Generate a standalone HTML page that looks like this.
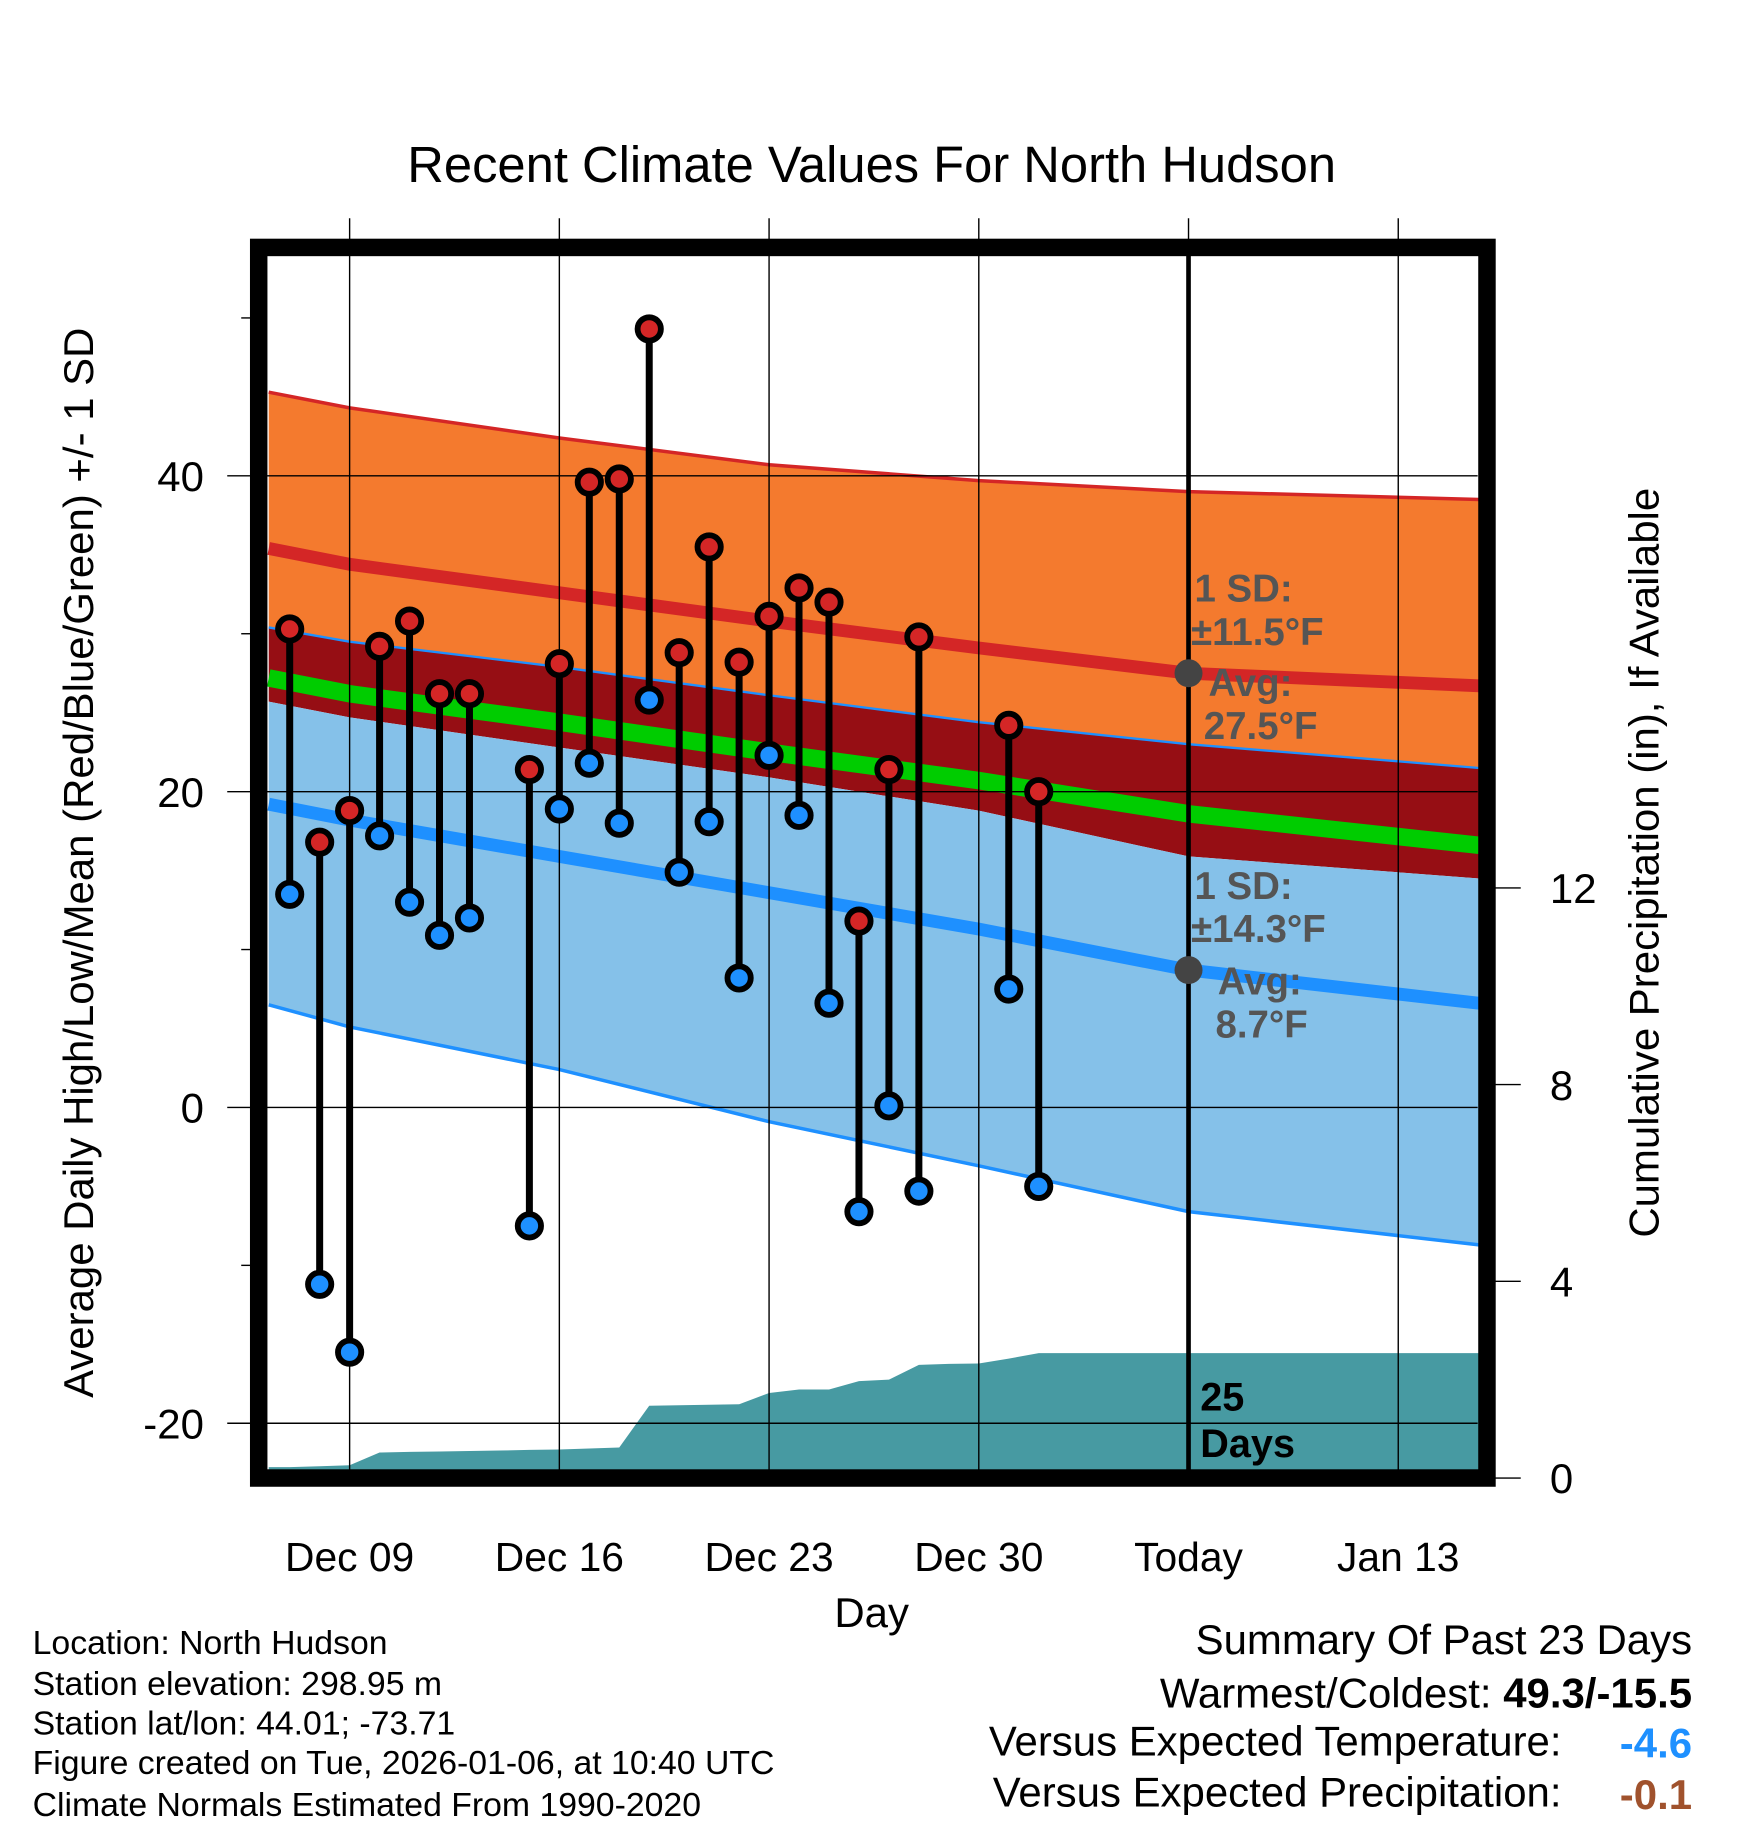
<!DOCTYPE html>
<html><head><meta charset="utf-8"><style>
html,body{margin:0;padding:0;background:#fff;}
svg{display:block;font-family:"Liberation Sans",Arial,sans-serif;}
</style></head><body>
<svg id="chart" width="1748" height="1828" viewBox="0 0 1500 1568" xmlns="http://www.w3.org/2000/svg">
<text x="748" y="156" font-size="43.5" text-anchor="middle">Recent Climate Values For North Hudson</text>
<g id="bands"></g>
<g id="precip"></g>
<g id="grid"></g>
<g id="marks"></g>
<g id="ann">
<text x="1025" y="516" font-size="33" font-weight="bold" fill="#555">1 SD:</text>
<text x="1022" y="553" font-size="33" font-weight="bold" fill="#555">±11.5°F</text>
<text x="1037" y="597" font-size="33" font-weight="bold" fill="#555">Avg:</text>
<text x="1033" y="634" font-size="33" font-weight="bold" fill="#555">27.5°F</text>
<text x="1025" y="771" font-size="33" font-weight="bold" fill="#555">1 SD:</text>
<text x="1022" y="808" font-size="33" font-weight="bold" fill="#555">±14.3°F</text>
<text x="1045" y="853" font-size="33" font-weight="bold" fill="#555">Avg:</text>
<text x="1043" y="890" font-size="33" font-weight="bold" fill="#555">8.7°F</text>
<text x="1030" y="1210" font-size="34" font-weight="bold">25</text>
<text x="1030" y="1250" font-size="34" font-weight="bold">Days</text>
</g>
<rect x="222" y="212" width="1054" height="1056" fill="none" stroke="#000" stroke-width="15"/>
<text x="748" y="1396" font-size="36" text-anchor="middle">Day</text>
<text transform="translate(80,740) rotate(-90)" font-size="36" text-anchor="middle">Average Daily High/Low/Mean (Red/Blue/Green) +/- 1 SD</text>
<text transform="translate(1423,740) rotate(-90)" font-size="36" text-anchor="middle">Cumulative Precipitation (in), If Available</text>
<g font-size="29">
<text x="28" y="1419">Location: North Hudson</text>
<text x="28" y="1454">Station elevation: 298.95 m</text>
<text x="28" y="1488">Station lat/lon: 44.01; -73.71</text>
<text x="28" y="1522">Figure created on Tue, 2026-01-06, at 10:40 UTC</text>
<text x="28" y="1558">Climate Normals Estimated From 1990-2020</text>
</g>
<g font-size="36">
<text x="1452" y="1419" text-anchor="end">Summary Of Past 23 Days</text>
<text x="1452" y="1465" text-anchor="end">Warmest/Coldest: <tspan font-weight="bold">49.3/-15.5</tspan></text>
<text x="1340" y="1506" text-anchor="end">Versus Expected Temperature:</text>
<text x="1452" y="1508" text-anchor="end" font-weight="bold" fill="#1e90ff">-4.6</text>
<text x="1340" y="1550" text-anchor="end">Versus Expected Precipitation:</text>
<text x="1452" y="1552" text-anchor="end" font-weight="bold" fill="#a0522d">-0.1</text>
</g>
</svg>
<script>
// day index 0 = Dec 07
const dayLabels = ["Dec 09","Dec 16","Dec 23","Dec 30","Today","Jan 13"];
const dayLabelIdx = [2,9,16,23,30,37];
const obsDays = [0,1,2,3,4,5,6,8,9,10,11,12,13,14,15,16,17,18,19,20,21,24,25];
const highs = [30.3,16.8,18.8,29.2,30.8,26.2,26.2,21.4,28.1,39.6,39.8,49.3,28.8,35.5,28.2,31.1,32.9,32.0,11.8,21.4,29.8,24.2,20.0];
const lows = [13.5,-11.2,-15.5,17.2,13.0,10.9,12.0,-7.5,18.9,21.8,18.0,25.8,14.9,18.1,8.2,22.3,18.5,6.6,-6.6,0.1,-5.3,7.5,-5.0];
const normDays = [-0.7,2,9,16,23,30,39.7];
const highUpper = [45.3,44.3,42.4,40.7,39.7,39.0,38.5];
const highMean = [35.4,34.4,32.6,30.8,29.1,27.5,26.7];
const orangeLower = [30.4,29.5,27.9,26.1,24.4,23.0,21.5];
const avgMean = [27.2,26.2,24.4,22.5,20.7,18.6,16.6];
const darkLower = [25.7,24.7,22.8,20.9,18.8,15.9,14.5];
const lowMean = [19.2,18.2,15.9,13.6,11.3,8.7,6.6];
const lowLower = [6.5,5.1,2.4,-0.9,-3.7,-6.6,-8.7];
const precipDays = [-0.7,0,1,2,3,4,5,6,7,8,9,10,11,12,13,14,15,16,17,18,19,20,21,22,23,24,25,26,39.7];
const precipVals = [0.22,0.22,0.24,0.26,0.52,0.53,0.54,0.55,0.56,0.57,0.58,0.6,0.62,1.47,1.48,1.49,1.5,1.73,1.8,1.8,1.97,2.0,2.3,2.32,2.33,2.43,2.54,2.54,2.54];
const yTicks = [40,20,0,-20];
const yMinor = [50,30,10,-10];
const pTicks = [0,4,8,12];
const todayIdx = 30;
const todayHigh = 27.5, todayLow = 8.7;

const NS="http://www.w3.org/2000/svg";
const xS = d => 248.6 + 25.71*d;
const yS = v => 950 - 13.55*v;
const pS = p => 1268 - 42.2*p;
function mk(tag, parent, attrs){const e=document.createElementNS(NS,tag);for(const k in attrs)e.setAttribute(k,attrs[k]);parent.appendChild(e);return e;}
const bands=document.getElementById('bands'), grid=document.getElementById('grid'), marks=document.getElementById('marks'), prec=document.getElementById('precip');
function line(arr){return normDays.map((d,i)=>xS(d).toFixed(1)+','+yS(arr[i]).toFixed(1)).join(' ');}
function band(up,lo,fill,name){const pts=line(up)+' '+normDays.map((d,i)=>[d,lo[i]]).reverse().map(p=>xS(p[0]).toFixed(1)+','+yS(p[1]).toFixed(1)).join(' ');
 const e=mk('polygon',bands,{points:pts,fill:fill});
 
 }
band(highUpper,orangeLower,'#f47a2e','high-sd-band');
band(orangeLower,darkLower,'#960e14','overlap-band');
band(darkLower,lowLower,'#85c1e9','low-sd-band');
function pl(arr,col,w,name){const e=mk('polyline',bands,{points:line(arr),fill:'none',stroke:col,'stroke-width':w});
 
 }
pl(highUpper,'#d42626',3,'high-upper-line');
pl(highMean,'#d42626',11,'high-mean-line');
pl(orangeLower,'#1e90ff',2,'low-upper-line');
pl(avgMean,'#00cc00',15,'mean-line');
pl(lowMean,'#1e90ff',11,'low-mean-line');
pl(lowLower,'#1e90ff',3,'low-lower-line');
// precip
let pp=precipDays.map((d,i)=>xS(Math.max(-0.7,Math.min(39.7,d))).toFixed(1)+','+pS(precipVals[i]).toFixed(1)).join(' ');
pp+=' '+xS(39.7).toFixed(1)+',1262 '+xS(-0.7).toFixed(1)+',1262';
const pe=mk('polygon',prec,{points:pp,fill:'#479aa2'});


// grid
dayLabelIdx.forEach((d,i)=>{
 const x=xS(d);
 mk('line',grid,{x1:x,x2:x,y1:187,y2:1275,stroke:'#000','stroke-width':1.2});
 if(d===todayIdx) mk('line',grid,{x1:x,x2:x,y1:219,y2:1262,stroke:'#000','stroke-width':4});
 const t=mk('text',grid,{x:x,y:1348,'font-size':35,'text-anchor':'middle'});t.textContent=dayLabels[i];
 
 
});
yTicks.forEach(v=>{const y=yS(v);mk('line',grid,{x1:195,x2:1268,y1:y,y2:y,stroke:'#000','stroke-width':1.2});
 const t=mk('text',grid,{x:175,y:y+13,'font-size':36,'text-anchor':'end'});t.textContent=v;
 
 });
yMinor.forEach(v=>{const y=yS(v);mk('line',grid,{x1:207,x2:215,y1:y,y2:y,stroke:'#000','stroke-width':1.2});});
pTicks.forEach(p=>{const y=pS(p);mk('line',grid,{x1:1283,x2:1305,y1:y,y2:y,stroke:'#000','stroke-width':1.2});
 const t=mk('text',grid,{x:1330,y:y+13,'font-size':36});t.textContent=p;
 
 });
// today dots
[todayHigh,todayLow].forEach(v=>{const c=mk('circle',marks,{cx:xS(todayIdx),cy:yS(v),r:12,fill:'#444'});
 
 });
// marks
obsDays.forEach((d,i)=>{
 const x=xS(d);
 const s=mk('line',marks,{x1:x,x2:x,y1:yS(highs[i]),y2:yS(lows[i]),stroke:'#000','stroke-width':6});
 
 
 const h=mk('circle',marks,{cx:x,cy:yS(highs[i]),r:10,fill:'#d42626',stroke:'#000','stroke-width':5});
 
 
 const l=mk('circle',marks,{cx:x,cy:yS(lows[i]),r:10,fill:'#1e90ff',stroke:'#000','stroke-width':5});
 
 
});
</script>
</body></html>
